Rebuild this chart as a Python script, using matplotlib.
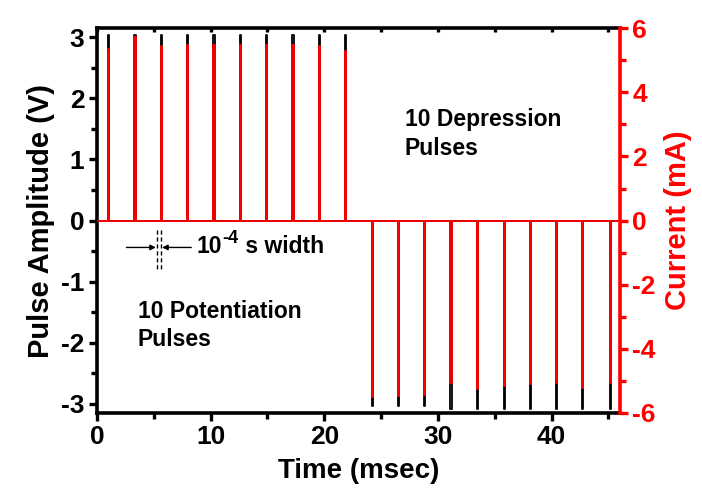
import numpy as np
import matplotlib
matplotlib.use("Agg")
import matplotlib.pyplot as plt
from matplotlib.ticker import MultipleLocator

# pulse start times (ms) for the potentiation (+) and depression (-) trains
pos_times = [1.0, 3.3, 5.6, 7.93, 10.25, 12.57, 14.9, 17.2, 19.5, 21.8]
neg_times = [24.2, 26.5, 28.8, 31.1, 33.4, 35.8, 38.1, 40.4, 42.7, 45.1]
pulse_width = 0.1  # ms

# applied voltage peaks (V)
v_pos = [3.03, 3.03, 3.03, 3.03, 3.03, 3.03, 3.03, 3.03, 3.03, 3.03]
v_neg = [-3.03, -3.03, -3.03, -3.08, -3.08, -3.08, -3.08, -3.08, -3.08, -3.08]

# measured current peaks (mA)
i_pos = [5.34, 5.73, 5.44, 5.47, 5.49, 5.47, 5.49, 5.49, 5.44, 5.29]
i_neg = [-5.5, -5.47, -5.44, -5.05, -5.26, -5.16, -5.1, -5.05, -5.21, -5.08]

t_end = 46.0

x_ticks = [0, 10, 20, 30, 40]
v_ticks = [-3, -2, -1, 0, 1, 2, 3]
i_ticks = [-6, -4, -2, 0, 2, 4, 6]


def pulse_train(times, peaks, width, t_stop):
    t, y = [0.0], [0.0]
    for t0, p in zip(times, peaks):
        t += [t0, t0, t0 + width, t0 + width]
        y += [0.0, p, p, 0.0]
    t.append(t_stop)
    y.append(0.0)
    return np.array(t), np.array(y)


all_times = pos_times + neg_times
tv, v = pulse_train(all_times, v_pos + v_neg, pulse_width, t_end)
ti, cur = pulse_train(all_times, i_pos + i_neg, pulse_width, t_end)

plt.rcParams["font.family"] = ["Liberation Sans", "DejaVu Sans"]
plt.rcParams["font.weight"] = "bold"
plt.rcParams["axes.unicode_minus"] = False

fig = plt.figure(figsize=(7.02, 4.94), dpi=100)
ax = fig.add_axes([0.138, 0.164, 0.745, 0.779])
ax2 = ax.twinx()

ax.plot(tv, v, color="black", lw=1.3)
ax2.plot(ti, cur, color="red", lw=1.3)

ax.set_xlim(0, t_end)
ax.set_ylim(-3.15, 3.15)
ax2.set_ylim(-6, 6)

ax.set_xticks(x_ticks)
ax.set_yticks(v_ticks)
ax2.set_yticks(i_ticks)
ax.xaxis.set_minor_locator(MultipleLocator(5))
ax.yaxis.set_minor_locator(MultipleLocator(0.5))
ax2.yaxis.set_minor_locator(MultipleLocator(1))

for a in (ax, ax2):
    for s in a.spines.values():
        s.set_linewidth(2.6)
ax2.spines["right"].set_color("red")
ax2.spines["left"].set_visible(False)
ax2.spines["top"].set_visible(False)
ax2.spines["bottom"].set_visible(False)
ax.spines["right"].set_visible(False)

ax.tick_params(axis="both", which="major", direction="out", length=6, width=2.4,
               labelsize=19, pad=3)
ax.tick_params(axis="both", which="minor", direction="out", length=4, width=2.4)
# small inward ticks along the top edge
ax.tick_params(axis="x", which="both", top=True, labeltop=False)
for tk in ax.xaxis.get_major_ticks() + ax.xaxis.get_minor_ticks():
    tk.tick2line.set_marker(3)
    tk.tick2line.set_markersize(3)
ax2.tick_params(axis="y", which="major", direction="out", length=6, width=2.4,
                colors="red", labelsize=19, pad=3)
ax2.tick_params(axis="y", which="minor", direction="out", length=4, width=2.4,
                colors="red")

ax.set_xlabel("Time (msec)", fontsize=20, fontweight="bold", labelpad=6)
ax.set_ylabel("Pulse Amplitude (V)", fontsize=21, fontweight="bold", labelpad=4)
ax2.set_ylabel("Current (mA)", fontsize=21, fontweight="bold", color="red", labelpad=6)

# pulse-width marker
w0, w1 = 5.29, 5.64
for xw in (w0, w1):
    ax.plot([xw, xw], [-0.16, -0.79], color="black", lw=1.0, ls=(0, (3, 2)))
ax.annotate("", xy=(w0 - 0.1, -0.44), xytext=(2.6, -0.44),
            arrowprops=dict(arrowstyle="-|>", color="black", lw=1.0,
                            mutation_scale=8, shrinkA=0, shrinkB=0))
ax.annotate("", xy=(w1 + 0.1, -0.44), xytext=(8.3, -0.44),
            arrowprops=dict(arrowstyle="-|>", color="black", lw=1.0,
                            mutation_scale=8, shrinkA=0, shrinkB=0))

# "10^-4 s width" built from three pieces so the exponent keeps a plain hyphen
t_base = ax.text(8.8, -0.62, "10", fontsize=16.5, fontweight="bold",
                 va="bottom", ha="left")
t_exp = ax.annotate("-4", xy=(1.0, 0.5), xycoords=t_base, fontsize=13,
                    fontweight="bold", va="bottom", ha="left")
ax.annotate(" s width", xy=(1.0, 0.0), xycoords=(t_exp, t_base), fontsize=16.5,
            fontweight="bold", va="bottom", ha="left")

ax.text(27.1, 1.84, "10 Depression\nPulses", fontsize=16.5, fontweight="bold",
        va="top", ha="left", linespacing=1.3)
ax.text(3.6, -1.3, "10 Potentiation\nPulses", fontsize=16.5, fontweight="bold",
        va="top", ha="left", linespacing=1.3)

fig.savefig("out.png", dpi=100)
